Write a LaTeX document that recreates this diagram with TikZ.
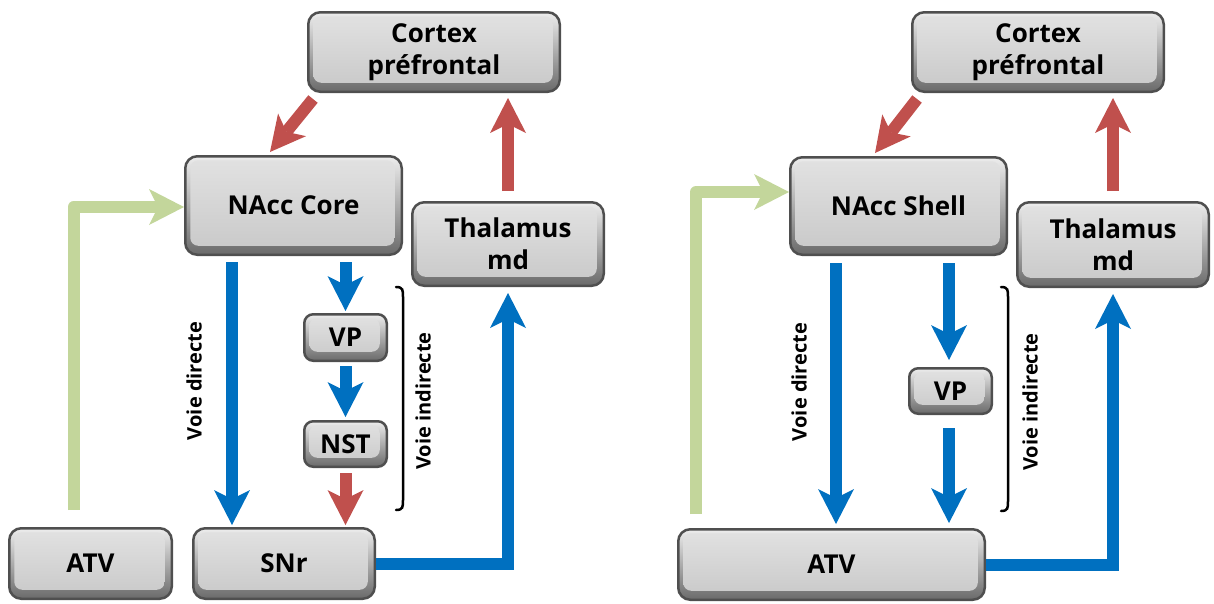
\documentclass[tikz,border=0pt]{standalone}
\usepackage{fontspec}
\setmainfont{Open Sans}
\usetikzlibrary{arrows.meta,calc}
\definecolor{cred}{HTML}{C0504D}
\definecolor{cblue}{HTML}{0070C0}
\definecolor{cgreen}{HTML}{C3D69B}
\definecolor{boxedge}{HTML}{4F4F4F}
\definecolor{bevtop}{HTML}{EDEDED}
\definecolor{bevbot}{HTML}{6A6A6A}
\definecolor{facetop}{HTML}{E2E2E2}
\definecolor{facebot}{HTML}{C8C8C8}
\tikzset{
  box/.style={draw=boxedge, line width=2.5pt, rounded corners=12pt,
    top color=bevtop, bottom color=bevbot, align=center, inner sep=0pt,
    font=\fontsize{26}{32}\selectfont\bfseries, text=black,
    path picture={
      \shade[top color=facetop, bottom color=facebot, rounded corners=8pt]
        ([xshift=5pt,yshift=-4pt]path picture bounding box.north west) rectangle
        ([xshift=-7pt,yshift=9pt]path picture bounding box.south east);
    }},
  smallbox/.style={box, rounded corners=9pt},
  conn/.style={line width=12pt, -{Stealth[length=35pt,width=36pt,inset=9pt,line width=0pt]}},
  bluearrow/.style={conn, draw=cblue},
  redarrow/.style={conn, draw=cred},
  greenarrow/.style={conn, draw=cgreen, line join=round},
  pathlabel/.style={rotate=90, font=\fontsize{20}{24}\selectfont\bfseries, inner sep=0pt},
  brace/.style={line width=2.5pt, draw=black, line cap=round},
}
\begin{document}
\begin{tikzpicture}[x=1pt,y=-1pt]
\useasboundingbox (0,0) rectangle (1214,603);
% ---------- left panel boxes
\node[box, minimum width=251.5pt, minimum height=79.5pt] (cortexL) at (434,52) {Cortex\\préfrontal};
\node[box, minimum width=216.5pt, minimum height=98.5pt] (coreL) at (293.5,205.5) {NAcc Core};
\node[box, minimum width=191.5pt, minimum height=83.5pt] (thalL) at (508,244) {Thalamus\\md};
\node[box, minimum width=162.5pt, minimum height=70.5pt] (atvL) at (90.5,563.5) {ATV};
\node[box, minimum width=181.5pt, minimum height=70.5pt] (snr) at (284,563.5) {SNr};
\node[smallbox, minimum width=82.5pt, minimum height=46.5pt] (vpL) at (345.5,337.5) {VP};
\node[smallbox, minimum width=82.5pt, minimum height=45.5pt] (nst) at (345.5,444) {NST};
% ---------- right panel boxes
\node[box, minimum width=251.5pt, minimum height=79.5pt] (cortexR) at (1038,52) {Cortex\\préfrontal};
\node[box, minimum width=216.5pt, minimum height=97.5pt] (shell) at (898.5,206) {NAcc Shell};
\node[box, minimum width=191.5pt, minimum height=84.5pt] (thalR) at (1113,244.5) {Thalamus\\md};
\node[box, minimum width=306.5pt, minimum height=70.5pt] (atvR) at (831.5,564.5) {ATV};
\node[smallbox, minimum width=82.5pt, minimum height=45.5pt] (vpR) at (950.5,391) {VP};
% ---------- labels
\node[pathlabel] (vdL) at (194,381) {Voie directe};
\node[pathlabel] (viL) at (423,401) {Voie indirecte};
\node[pathlabel] (vdR) at (799,382) {Voie directe};
\node[pathlabel] (viR) at (1030,402) {Voie indirecte};
% ---------- brackets
\draw[brace] (396,287) .. controls (403,287) and (403,290) .. (403,297) -- (403,500) .. controls (403,507) and (403,510) .. (396,510);
\draw[brace] (1001,287) .. controls (1008,287) and (1008,290) .. (1008,297) -- (1008,501) .. controls (1008,508) and (1008,511) .. (1001,511);
% ---------- left panel connectors
\draw[redarrow] ([xshift=6pt,yshift=-6pt]cortexL.south west) -- ([xshift=-23.5pt,yshift=3pt]coreL.north);
\draw[redarrow] ([yshift=10pt]thalL.north) -- ([yshift=-5pt]thalL.north |- cortexL.south);
\draw[bluearrow] ([xshift=-61.5pt,yshift=-6pt]coreL.south) -- ([xshift=-52pt,yshift=2pt]snr.north);
\draw[bluearrow] ([xshift=52pt,yshift=-6pt]coreL.south) -- ([yshift=2pt]vpL.north);
\draw[bluearrow] ([yshift=-4pt]vpL.south) -- ([yshift=3pt]nst.north);
\draw[redarrow] ([yshift=-5pt]nst.south) -- ([xshift=61.5pt,yshift=2pt]snr.north);
\draw[bluearrow] (snr.east) -| ([yshift=-6pt]thalL.south);
\draw[greenarrow] ([xshift=-17pt,yshift=17pt]atvL.north) |- ([yshift=-1.5pt]coreL.west);
% ---------- right panel connectors
\draw[redarrow] ([xshift=6pt,yshift=-6pt]cortexR.south west) -- ([xshift=-23.5pt,yshift=3pt]shell.north);
\draw[redarrow] ([yshift=10pt]thalR.north) -- ([yshift=-5pt]thalR.north |- cortexR.south);
\draw[bluearrow] ([xshift=-62.5pt,yshift=-7pt]shell.south) -- ([xshift=4.5pt,yshift=4pt]atvR.north);
\draw[bluearrow] ([xshift=50.5pt,yshift=-7pt]shell.south) -- ([xshift=-1.5pt,yshift=7pt]vpR.north);
\draw[bluearrow] ([xshift=-1.5pt,yshift=-13pt]vpR.south) -- ([xshift=117.5pt,yshift=5pt]atvR.north);
\draw[bluearrow] (atvR.east) -| ([yshift=-6pt]thalR.south);
\draw[greenarrow] ([xshift=-135.5pt,yshift=14pt]atvR.north) |- ([yshift=14pt]shell.west);
\end{tikzpicture}
\end{document}
